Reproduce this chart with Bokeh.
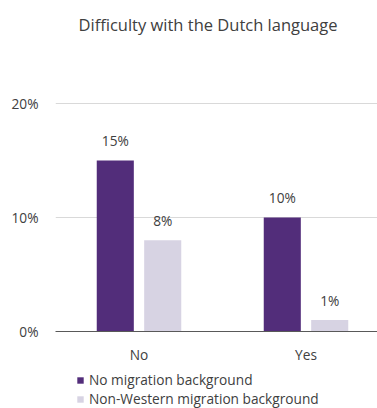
from bokeh.plotting import figure
from bokeh.layouts import column
from bokeh.models import (Range1d, FixedTicker, Legend, LegendItem, ColumnDataSource,
                          Title, NumeralTickFormatter)
from bokeh.transform import dodge
from bokeh.core.properties import value
from bokeh.embed import file_html
from bokeh.resources import INLINE

categories = ["No", "Yes"]
no_migration = [0.15, 0.10]
non_western = [0.08, 0.01]
y_ticks = [0.0, 0.1, 0.2]
series_names = ["No migration background", "Non-Western migration background"]
title_text = "Difficulty with the Dutch language"

FONT = "Open Sans"
FS = "13.7px"
TXT = "#404040"
PURPLE = "#522D7A"
LILAC = "#D7D3E3"

xpos = [i + 0.5 for i in range(len(categories))]
src = ColumnDataSource(dict(
    x=xpos, a=no_migration, b=non_western,
    la=[f"{round(v*100)}%" for v in no_migration],
    lb=[f"{round(v*100)}%" for v in non_western],
))

W = 377
p = figure(width=W, height=366, output_backend="svg", toolbar_location=None,
           x_range=Range1d(0, (W - 55) / 167), y_range=Range1d(0, 0.25),
           min_border_left=55, min_border_right=0, min_border_top=46, min_border_bottom=35)
p.title = Title(text=title_text, align="left", text_font=FONT, text_font_size="16.5px",
                text_font_style="normal", text_color=TXT, offset=23, standoff=21)
p.outline_line_color = None
p.background_fill_color = "white"
p.border_fill_color = "white"

off = 0.142
w = 0.222
r1 = p.vbar(x=dodge("x", -off), top="a", width=w, source=src, fill_color=PURPLE, line_color=None)
r2 = p.vbar(x=dodge("x", off), top="b", width=w, source=src, fill_color=LILAC, line_color=None)
p.text(x=dodge("x", -off), y="a", text="la", source=src, text_align="center", text_baseline="alphabetic",
       y_offset=-20, text_font=value(FONT), text_font_size=FS, text_color=TXT)
p.text(x=dodge("x", off), y="b", text="lb", source=src, text_align="center", text_baseline="alphabetic",
       y_offset=-20, text_font=value(FONT), text_font_size=FS, text_color=TXT)

p.xaxis.ticker = FixedTicker(ticks=xpos)
p.xaxis.major_label_overrides = {x: c for x, c in zip(xpos, categories)}
p.xaxis.axis_line_color = "#595959"
p.xaxis.major_tick_line_color = None
p.xaxis.minor_tick_line_color = None
p.xaxis.major_label_standoff = 7
p.xaxis.major_label_text_font = FONT
p.xaxis.major_label_text_font_size = FS
p.xaxis.major_label_text_color = TXT

p.yaxis.ticker = FixedTicker(ticks=y_ticks)
p.yaxis.formatter = NumeralTickFormatter(format="0%")
p.yaxis.axis_line_color = None
p.yaxis.major_tick_line_color = None
p.yaxis.minor_tick_line_color = None
p.yaxis.major_label_standoff = 11
p.yaxis.major_label_text_font = FONT
p.yaxis.major_label_text_font_size = FS
p.yaxis.major_label_text_color = TXT

p.xgrid.grid_line_color = None
p.ygrid.grid_line_color = "#D9D9D9"
p.ygrid.ticker = FixedTicker(ticks=y_ticks)

# legend strip below the chart
q = figure(width=W, height=42, output_backend="svg", toolbar_location=None,
           x_range=Range1d(0, 1), y_range=Range1d(10, 11),
           x_axis_location=None, y_axis_location=None,
           min_border_left=0, min_border_right=0, min_border_top=0, min_border_bottom=0)
q.outline_line_color = None
q.xgrid.grid_line_color = None
q.ygrid.grid_line_color = None
q1 = q.vbar(x="x", top="a", width=w, source=src, fill_color=PURPLE, line_color=None)
q2 = q.vbar(x="x", top="b", width=w, source=src, fill_color=LILAC, line_color=None)
legend = Legend(items=[LegendItem(label=series_names[0], renderers=[q1]),
                       LegendItem(label=series_names[1], renderers=[q2])],
                location=(21, 0), orientation="vertical", padding=0, margin=0, spacing=0,
                glyph_width=8, glyph_height=8, label_standoff=5, label_height=16,
                label_text_font=FONT, label_text_font_size=FS, label_text_color=TXT,
                border_line_color=None, background_fill_alpha=0)
q.add_layout(legend, "center")

layout = column(p, q, spacing=0)
open("out.html", "w").write(file_html(layout, INLINE))
